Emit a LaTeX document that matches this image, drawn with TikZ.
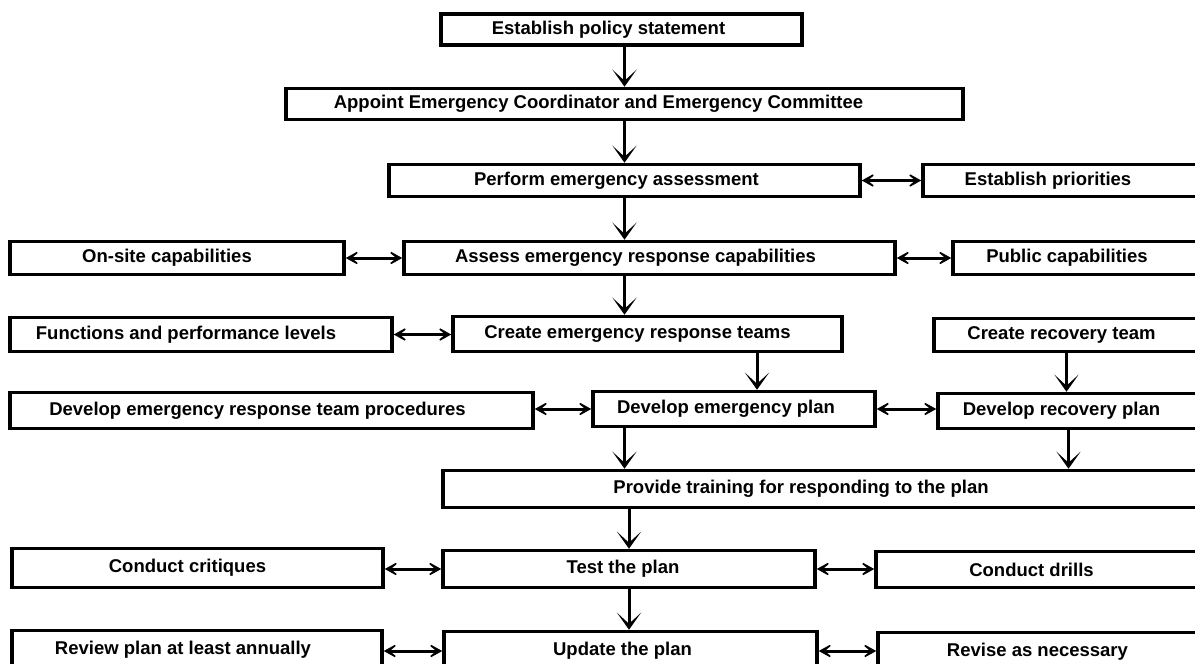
\documentclass[tikz,border=0pt]{standalone}
\usepackage{fontspec}
\setmainfont{Liberation Sans}
\usetikzlibrary{arrows.meta}
\begin{document}
\begin{tikzpicture}[
		x=1pt, y=-1pt,
		box/.style={draw, rectangle, line width=3.5pt, inner sep=0pt, font=\fontsize{18.5}{22}\bfseries\selectfont, execute at begin node={\hspace*{-#1}}},
		box/.default=20pt,
		arr/.style={line width=3pt, -{Stealth[length=17pt,width=24pt,inset=11pt]}},
		biarr/.style={line width=3pt, {Stealth[length=18pt,width=20pt,inset=12pt]}-{Stealth[length=18pt,width=20pt,inset=12pt]}}
	]
	\useasboundingbox (0,0) rectangle (1195,664);
	\node[box=26pt, minimum width=361pt, minimum height=31pt] (policy) at (621.5,29.5) {Establish policy statement};
	\node[box=52pt, minimum width=677pt, minimum height=31pt] (appoint) at (624.5,104) {Appoint Emergency Coordinator and Emergency Committee};
	\node[box=16pt, minimum width=471pt, minimum height=32pt] (perform) at (624.5,180.5) {Perform emergency assessment};
	\node[box=26pt, minimum width=276pt, minimum height=32pt] (priorities) at (1061,180.5) {Establish priorities};
	\node[box=20pt, minimum width=334pt, minimum height=33pt] (onsite) at (177,258) {On-site capabilities};
	\node[box=28pt, minimum width=491pt, minimum height=33pt] (assess) at (649.5,258) {Assess emergency response capabilities};
	\node[box=18pt, minimum width=246pt, minimum height=33pt] (public) at (1076,258) {Public capabilities};
	\node[box=30pt, minimum width=382pt, minimum height=34pt] (functions) at (201,334.5) {Functions and performance levels};
	\node[box=20pt, minimum width=389pt, minimum height=35pt] (createert) at (647.5,334) {Create emergency response teams};
	\node[box=10pt, minimum width=265pt, minimum height=33pt] (createrec) at (1066.5,335) {Create recovery team};
	\node[box=28pt, minimum width=523pt, minimum height=36pt] (devproc) at (271.5,410.5) {Develop emergency response team procedures};
	\node[box=16pt, minimum width=282pt, minimum height=35pt] (devplan) at (734,409) {Develop emergency plan};
	\node[box=14pt, minimum width=261pt, minimum height=35pt] (devrec) at (1068.5,411) {Develop recovery plan};
	\node[box=40pt, minimum width=756pt, minimum height=37pt] (training) at (821,489) {Provide training for responding to the plan};
	\node[box=20pt, minimum width=371pt, minimum height=39pt] (critiques) at (197.5,568) {Conduct critiques};
	\node[box=12pt, minimum width=372pt, minimum height=37pt] (test) at (629,569) {Test the plan};
	\node[box=12pt, minimum width=323pt, minimum height=36pt] (drills) at (1037.5,569.5) {Conduct drills};
	\node[box=28pt, minimum width=370pt, minimum height=39pt] (review) at (197,650) {Review plan at least annually};
	\node[box=16pt, minimum width=373pt, minimum height=39pt] (update) at (630.5,651) {Update the plan};
	\node[box=2pt, minimum width=321pt, minimum height=39pt] (revise) at (1038.5,652) {Revise as necessary};

	\draw[arr] (policy.south -| appoint.north) -- (appoint.north);
	\draw[arr] (appoint.south) -- (perform.north);
	\draw[arr] (perform.south) -- (perform.south |- assess.north);
	\draw[arr] (perform.south |- assess.south) -- (perform.south |- createert.north);
	\draw[arr] ([xshift=109.5pt]createert.south) -- ([xshift=109.5pt]createert.south |- devplan.north);
	\draw[arr] (createrec.south) -- (createrec.south |- devrec.north);
	\draw[arr] (perform.south |- devplan.south) -- (perform.south |- training.north);
	\draw[arr] (devrec.south) -- (devrec.south |- training.north);
	\draw[arr] (test.north |- training.south) -- (test.north);
	\draw[arr] (test.south) -- (test.south |- update.north);

	\draw[biarr] (perform.east) -- (priorities.west);
	\draw[biarr] (onsite.east) -- (assess.west);
	\draw[biarr] (assess.east) -- (public.west);
	\draw[biarr] (functions.east) -- (functions.east -| createert.west);
	\draw[biarr] (devproc.east |- devplan.west) -- (devplan.west);
	\draw[biarr] (devplan.east) -- (devplan.east -| devrec.west);
	\draw[biarr] (critiques.east |- test.west) -- (test.west);
	\draw[biarr] (test.east) -- (test.east -| drills.west);
	\draw[biarr] (review.east |- update.west) -- (update.west);
	\draw[biarr] (update.east) -- (update.east -| revise.west);
\end{tikzpicture}
\end{document}
